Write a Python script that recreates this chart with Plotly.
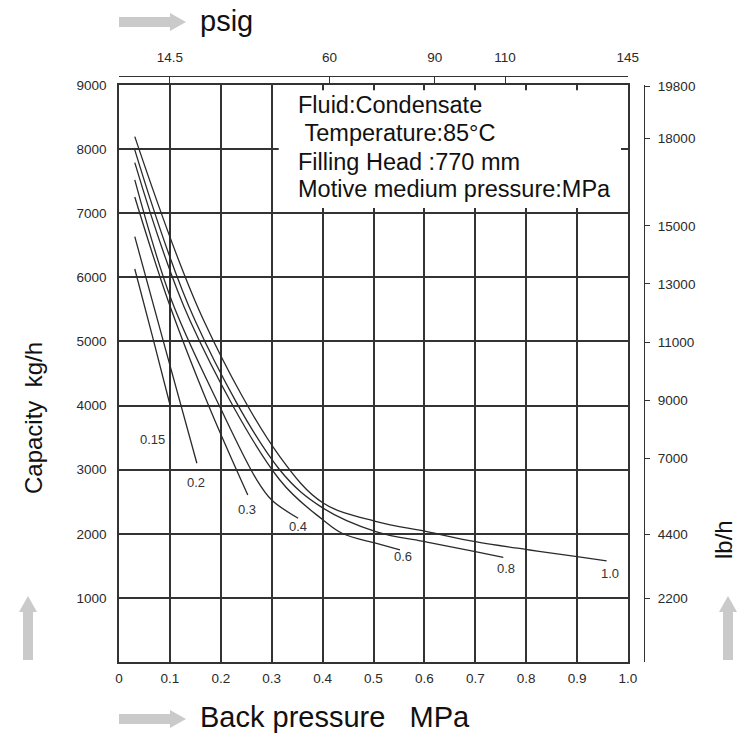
import plotly.graph_objects as go

# ---------------- data ----------------
x_ticks = [0, 0.1, 0.2, 0.3, 0.4, 0.5, 0.6, 0.7, 0.8, 0.9, 1.0]
x_ticktext = ["0", "0.1", "0.2", "0.3", "0.4", "0.5", "0.6", "0.7", "0.8", "0.9", "1.0"]
y_ticks = [1000, 2000, 3000, 4000, 5000, 6000, 7000, 8000, 9000]
psig_ticks = [14.5, 60, 90, 110, 145]
psig_text = ["14.5", "60", "90", "110", "145"]
lbh_ticks = [2200, 4400, 7000, 9000, 11000, 13000, 15000, 18000, 19800]
lbh_text = ["2200", "4400", "7000", "9000", "11000", "13000", "15000", "18000", "19800"]

series_labels = ["0.15", "0.2", "0.3", "0.4", "0.6", "0.8", "1.0"]

x_015 = [0.031, 0.066, 0.101]
y_015 = [6130, 5070, 3985]

x_02 = [0.031, 0.09, 0.153]
y_02 = [6635, 4920, 3100]

x_03 = [0.031, 0.096, 0.175, 0.253]
y_03 = [7254, 5647, 4020, 2605]

x_04 = [0.031, 0.103, 0.2, 0.27, 0.3, 0.352]
y_04 = [7520, 5647, 3950, 2850, 2527, 2242]

x_06 = [0.031, 0.139, 0.316, 0.401, 0.44, 0.506, 0.552]
y_06 = [7790, 5335, 2839, 2215, 2000, 1850, 1750]

x_08 = [0.031, 0.149, 0.316, 0.401, 0.506, 0.605, 0.7, 0.755]
y_08 = [7988, 5335, 2995, 2400, 2030, 1870, 1720, 1633]

x_10 = [0.031, 0.166, 0.316, 0.401, 0.506, 0.605, 0.7, 0.807, 0.9, 0.958]
y_10 = [8195, 5335, 3203, 2480, 2189, 2033, 1877, 1747, 1643, 1576]

label_x = [0.065, 0.151, 0.251, 0.352, 0.558, 0.760, 0.965]
label_y = [3463, 2793, 2371, 2106, 1638, 1466, 1373]

info_lines = ["Fluid:Condensate", " Temperature:85°C", "Filling Head :770 mm",
              "Motive medium pressure:MPa"]

KG_TO_LB = 2.20462
MPA_TO_PSI = 145.038

# ---------------- layout geometry (screen pixels) ----------------
W, H = 739, 733
ML, MT = 119, 76
MB = H - 662
MR = W - 644
PW = W - ML - MR
PH = H - MT - MB


def px(xs):
    return (xs - ML) / PW


def py(ys):
    return (H - MB - ys) / PH


curves = [(x_015, y_015), (x_02, y_02), (x_03, y_03), (x_04, y_04),
          (x_06, y_06), (x_08, y_08), (x_10, y_10)]

fig = go.Figure()
for (xs, ys), name in zip(curves, series_labels):
    fig.add_trace(go.Scatter(x=xs, y=ys, mode="lines", name=name,
                             line=dict(color="#2a2a2a", width=1.3, shape="spline", smoothing=1.0),
                             showlegend=False, hoverinfo="skip"))

# dummy trace so the secondary axes exist
fig.add_trace(go.Scatter(x=[None], y=[None], xaxis="x2", yaxis="y2", showlegend=False,
                         hoverinfo="skip"))

for t, lx, ly in zip(series_labels, label_x, label_y):
    fig.add_annotation(x=lx, y=ly, xref="x", yref="y", text=t, showarrow=False,
                       font=dict(family="Liberation Sans", size=13, color="#333"))

# white info box covering the grid
fig.add_shape(type="rect", xref="x", yref="y", x0=0.3 + 7 / 509, x1=1.0 - 7 / 509,
              y0=7000 + 80, y1=9000 - 80, fillcolor="white", line=dict(width=0), layer="above")

for t, yp in zip(info_lines, [105, 133, 162, 189]):
    fig.add_annotation(x=px(296), y=py(yp), xref="paper", yref="paper", text=t.replace(" ", "\u00a0"),
                       showarrow=False, xanchor="left", yanchor="middle",
                       font=dict(family="Liberation Sans", size=23.5, color="#111"))

# titles
fig.add_annotation(x=px(198), y=py(21), xref="paper", yref="paper", text="psig", showarrow=False,
                   xanchor="left", yanchor="middle",
                   font=dict(family="Liberation Sans", size=29, color="#111"))
fig.add_annotation(x=px(198), y=py(717), xref="paper", yref="paper",
                   text="Back pressure\u00a0\u00a0\u00a0MPa", showarrow=False,
                   xanchor="left", yanchor="middle",
                   font=dict(family="Liberation Sans", size=29, color="#111"))
fig.add_annotation(x=px(33), y=py(418), xref="paper", yref="paper",
                   text="Capacity\u00a0\u00a0kg/h", showarrow=False, textangle=-90,
                   xanchor="center", yanchor="middle",
                   font=dict(family="Liberation Sans", size=24, color="#111"))
fig.add_annotation(x=px(723), y=py(540), xref="paper", yref="paper",
                   text="lb/h", showarrow=False, textangle=-90,
                   xanchor="center", yanchor="middle",
                   font=dict(family="Liberation Sans", size=24, color="#111"))


# gray arrows
def arrow_right(x0, x1, yc):
    hx = x1 - 16
    pts = [(x0, yc - 5), (hx, yc - 5), (hx, yc - 9), (x1, yc), (hx, yc + 9), (hx, yc + 5), (x0, yc + 5)]
    return "M " + " L ".join(f"{px(a):.5f},{py(b):.5f}" for a, b in pts) + " Z"


def arrow_up(xc, ytop, ybot):
    hy = ytop + 16
    pts = [(xc - 5, ybot), (xc - 5, hy), (xc - 9, hy), (xc, ytop), (xc + 9, hy), (xc + 5, hy), (xc + 5, ybot)]
    return "M " + " L ".join(f"{px(a):.5f},{py(b):.5f}" for a, b in pts) + " Z"


for path in [arrow_right(119, 186, 22), arrow_right(119, 186, 719),
             arrow_up(28, 596, 660), arrow_up(728, 596, 660)]:
    fig.add_shape(type="path", path=path, xref="paper", yref="paper",
                  fillcolor="#cacaca", line=dict(width=0))

tick_font = dict(family="Liberation Sans", size=13.5, color="#2a2a2a")
grid_c = "#333333"
fig.update_layout(
    width=W, height=H, margin=dict(l=ML, r=MR, t=MT, b=MB),
    paper_bgcolor="white", plot_bgcolor="white",
    xaxis=dict(domain=[0, 509 / PW], range=[0, 1], tickvals=x_ticks, ticktext=x_ticktext,
               showgrid=True, gridcolor=grid_c, gridwidth=1.5, zeroline=False,
               showline=True, linecolor="#333", linewidth=1.7, mirror=True,
               ticks="", tickfont=tick_font, ticklabelstandoff=3),
    yaxis=dict(domain=[0, (662 - 85) / PH], range=[0, 9000], tickvals=y_ticks,
               showgrid=True, gridcolor=grid_c, gridwidth=1.5, zeroline=False,
               showline=True, linecolor="#333", linewidth=1.7, mirror=True,
               ticks="", tickfont=tick_font, ticklabelstandoff=8),
    xaxis2=dict(overlaying="x", side="top", anchor="free", position=1.0,
                range=[0, MPA_TO_PSI], tickvals=psig_ticks, ticktext=psig_text,
                showgrid=False, zeroline=False, showline=True, linecolor="#333", linewidth=1.3,
                ticks="inside", ticklen=8, tickcolor="#333", tickwidth=1.3, tickfont=tick_font,
                ticklabelstandoff=8),
    yaxis2=dict(overlaying="y", side="right", anchor="free", position=1.0,
                range=[0, 9000 * KG_TO_LB], tickvals=lbh_ticks, ticktext=lbh_text,
                showgrid=False, zeroline=False, showline=True, linecolor="#333", linewidth=1.3,
                ticks="outside", ticklen=5, tickcolor="#333", tickwidth=1.3, tickfont=tick_font,
                ticklabelstandoff=5),
)

fig.write_html("out.html", config={"displayModeBar": False},
               post_script="document.body.style.margin='0px';document.body.style.overflow='hidden';")
